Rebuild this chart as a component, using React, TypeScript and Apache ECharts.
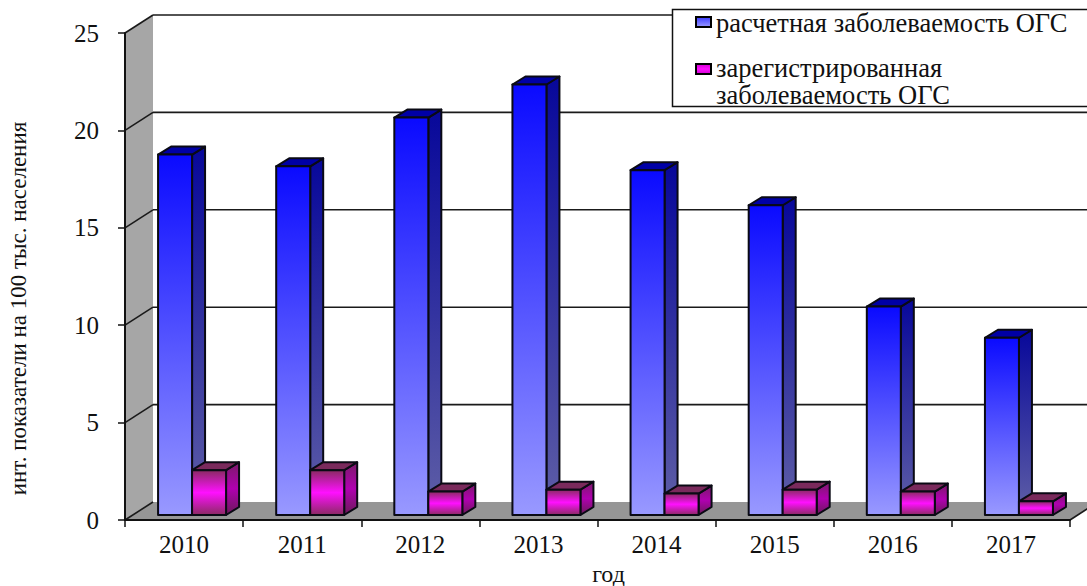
import React, { useEffect, useRef } from "react";
import * as echarts from "echarts";

const years = ["2010", "2011", "2012", "2013", "2014", "2015", "2016", "2017"];
const estimated = [18.5, 17.9, 20.4, 22.1, 17.7, 15.9, 10.7, 9.1];
const registered = [2.3, 2.3, 1.2, 1.3, 1.1, 1.3, 1.2, 0.7];
const gridTicks = [0, 5, 10, 15, 20, 25];
const estimatedName = "расчетная заболеваемость ОГС";
const registeredName = ["зарегистрированная", "заболеваемость ОГС"];
const yTitle = "инт. показатели на 100 тыс. населения";
const xTitle = "год";

const FONT = "'Liberation Serif', serif";
const TEXT = "#111";
const vGrad = (stops: [number, string][]) =>
  new echarts.graphic.LinearGradient(0, 0, 0, 1, stops.map(([offset, color]) => ({ offset, color })));

const BAR_W = 34;
const DEPTH_X = 13;
const DEPTH_Y = 8;
const BASE_X = 8;
const BASE_Y = 5;
const WALL_X = 28;
const WALL_Y = 18;

function bar3d(side: number, face: any, sideFill: any, topFill: string) {
  return (_p: any, api: any) => {
    const cat = api.value(0);
    const [cx, yTop0] = api.coord([cat, api.value(1)]);
    const [, y00] = api.coord([cat, 0]);
    const yTop = yTop0 - BASE_Y;
    const y0 = y00 - BASE_Y;
    const l = cx + BASE_X + (side < 0 ? -BAR_W : 0);
    const r = l + BAR_W;
    const stroke = { stroke: "#0a0a14", lineWidth: 2, lineJoin: "round" };
    return {
      type: "group",
      children: [
        {
          type: "polygon",
          shape: { points: [[r, yTop], [r + DEPTH_X, yTop - DEPTH_Y], [r + DEPTH_X, y0 - DEPTH_Y], [r, y0]] },
          style: { fill: sideFill, ...stroke },
        },
        {
          type: "polygon",
          shape: { points: [[l, yTop], [l + DEPTH_X, yTop - DEPTH_Y], [r + DEPTH_X, yTop - DEPTH_Y], [r, yTop]] },
          style: { fill: topFill, ...stroke },
        },
        {
          type: "polygon",
          shape: { points: [[l, yTop], [r, yTop], [r, y0], [l, y0]] },
          style: { fill: face, ...stroke },
        },
      ],
    };
  };
}

function wallItem(params: any, api: any) {
  const v = api.value(1);
  const cs = params.coordSys;
  const x0 = cs.x;
  const x1 = cs.x + cs.width;
  const y = api.coord([0, v])[1];
  const yTop = api.coord([0, gridTicks[gridTicks.length - 1]])[1];
  const children: any[] = [];
  if (v === 0) {
    children.push(
      {
        type: "polygon",
        shape: { points: [[x0, yTop], [x0 + WALL_X, yTop - WALL_Y], [x0 + WALL_X, y - WALL_Y], [x0, y]] },
        style: { fill: "#a6a6a6" },
      },
      {
        type: "polygon",
        shape: { points: [[x0, y], [x0 + WALL_X, y - WALL_Y], [x1 + WALL_X, y - WALL_Y], [x1, y]] },
        style: { fill: "#969696" },
      }
    );
  }
  const line = { stroke: "#1a1a1a", lineWidth: 1.6 };
  children.push({
    type: "line",
    shape: { x1: x0, y1: y, x2: x0 + WALL_X, y2: y - WALL_Y },
    style: line,
  });
  if (v === 0) {
    children.push({
      type: "line",
      shape: { x1: x1, y1: y, x2: x1 + WALL_X, y2: y - WALL_Y },
      style: line,
    });
  } else {
    children.push({
      type: "line",
      shape: { x1: x0 + WALL_X, y1: y - WALL_Y, x2: x1 + WALL_X, y2: y - WALL_Y },
      style: line,
    });
  }
  return { type: "group", children };
}

const legendText = (text: string, x: number, y: number) => ({
  type: "text",
  x,
  y,
  z: 100,
  style: { text, font: `26.5px ${FONT}`, fill: TEXT, verticalAlign: "middle" },
});
const legendIcon = (y: number, fill: any) => ({
  type: "rect",
  z: 100,
  shape: { x: 696, y, width: 15, height: 10 },
  style: { fill, stroke: "#000", lineWidth: 2 },
});

export default function App() {
  const ref = useRef<HTMLDivElement>(null);
  useEffect(() => {
    document.body.style.margin = "0";
    const chart = echarts.init(ref.current!, null, { renderer: "svg" });
    const axisText = { fontFamily: FONT, fontSize: 25, color: TEXT };
    chart.setOption({
      animation: false,
      backgroundColor: "#fff",
      grid: { left: 125, right: 17, top: 33, bottom: 66, containLabel: false, outerBoundsMode: "none" },
      xAxis: {
        type: "category",
        data: years,
        z: 10,
        axisLine: { lineStyle: { color: "#111", width: 2 } },
        axisTick: { show: true, alignWithLabel: false, length: 7, lineStyle: { color: "#111", width: 1.5 } },
        axisLabel: { ...axisText, margin: 12 },
        name: xTitle,
        nameLocation: "middle",
        nameGap: 41,
        nameTextStyle: { ...axisText, fontSize: 24, padding: [0, 0, 0, 22] },
      },
      yAxis: {
        type: "value",
        min: 0,
        max: 25,
        interval: 5,
        z: 10,
        splitLine: { show: false },
        axisLine: { show: true, lineStyle: { color: "#111", width: 2 } },
        axisTick: { show: true, length: 7, lineStyle: { color: "#111", width: 1.5 } },
        axisLabel: { ...axisText, margin: 26, verticalAlign: "middle" },
        name: yTitle,
        nameLocation: "middle",
        nameGap: 95,
        nameRotate: 90,
        nameTextStyle: { ...axisText, fontSize: 23, padding: [0, 64, 0, 0] },
      },
      graphic: [
        {
          type: "rect",
          z: 99,
          shape: { x: 672.5, y: 9.5, width: 430, height: 97 },
          style: { fill: "#fff", stroke: "#111", lineWidth: 1.5 },
        },
        legendIcon(17, vGrad([[0, "#3a3aff"], [1, "#9999ff"]])),
        legendIcon(64, vGrad([[0, "#d000d0"], [0.5, "#ff10ff"], [1, "#d000d0"]])),
        legendText(estimatedName, 716, 23),
        legendText(registeredName[0], 716, 68),
        legendText(registeredName[1], 716, 95),
      ],
      series: [
        {
          name: "стены",
          type: "custom",
          z: 1,
          silent: true,
          clip: false,
          encode: { x: 0, y: 1 },
          data: gridTicks.map((v) => [0, v]),
          renderItem: wallItem,
        },
        {
          name: estimatedName,
          type: "custom",
          z: 3,
          clip: false,
          encode: { x: 0, y: 1 },
          data: estimated.map((v, i) => [i, v]),
          renderItem: bar3d(
            -1,
            vGrad([[0, "#0a0aff"], [1, "#9999ff"]]),
            vGrad([[0, "#07079a"], [1, "#5f5fa6"]]),
            "#0000a6"
          ),
        },
        {
          name: registeredName.join(" "),
          type: "custom",
          z: 4,
          clip: false,
          encode: { x: 0, y: 1 },
          data: registered.map((v, i) => [i, v]),
          renderItem: bar3d(
            1,
            vGrad([[0, "#8a2a62"], [0.5, "#ff10ff"], [1, "#8a2a62"]]),
            vGrad([[0, "#7a1a68"], [0.5, "#b000b0"], [1, "#6a1a58"]]),
            "#7a2a5c"
          ),
        },
      ],
    });
    return () => chart.dispose();
  }, []);
  return <div ref={ref} style={{ width: 1087, height: 586 }} />;
}
